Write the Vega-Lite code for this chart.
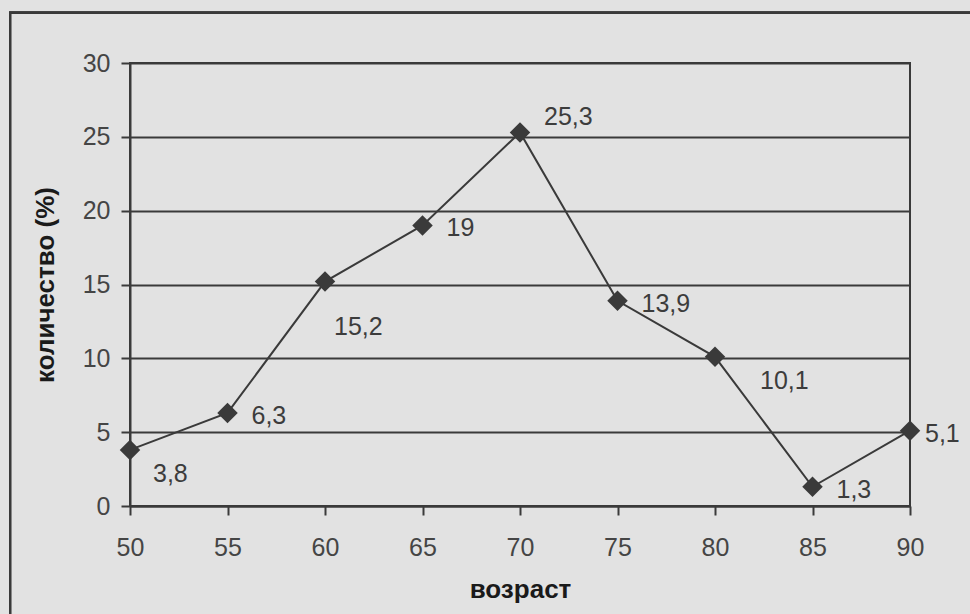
{
  "$schema": "https://vega.github.io/schema/vega-lite/v6.json",
  "width": 780,
  "height": 443,
  "autosize": {"type": "none"},
  "padding": {"left": 130, "top": 63, "right": 60, "bottom": 108},
  "background": "#e2e2e2",
  "config": {
    "locale": {"number": {"decimal": ",", "thousands": " ", "grouping": [3], "currency": ["", ""]}},
    "view": {"stroke": "#3a3a3a", "strokeWidth": 2},
    "font": "Liberation Sans",
    "axis": {
      "labelFont": "Liberation Sans",
      "labelFontSize": 25,
      "labelColor": "#454545",
      "titleFont": "Liberation Sans",
      "titleFontSize": 26,
      "titleFontWeight": "bold",
      "titleColor": "#1a1a1a",
      "domainColor": "#3a3a3a",
      "domainWidth": 2,
      "tickColor": "#3a3a3a",
      "tickWidth": 2,
      "tickSize": 9,
      "gridColor": "#3a3a3a",
      "gridWidth": 2,
      "gridOpacity": 1
    }
  },
  "data": {
    "values": [
      {"age": 50, "value": 3.8},
      {"age": 55, "value": 6.3},
      {"age": 60, "value": 15.2},
      {"age": 65, "value": 19},
      {"age": 70, "value": 25.3},
      {"age": 75, "value": 13.9},
      {"age": 80, "value": 10.1},
      {"age": 85, "value": 1.3},
      {"age": 90, "value": 5.1}
    ]
  },
  "encoding": {
    "x": {
      "field": "age",
      "type": "quantitative",
      "scale": {"domain": [50, 90], "nice": false, "zero": false},
      "axis": {"values": [50, 55, 60, 65, 70, 75, 80, 85, 90], "grid": false, "title": "возраст", "labelPadding": 20, "titlePadding": 16, "labelFlush": false}
    },
    "y": {
      "field": "value",
      "type": "quantitative",
      "scale": {"domain": [0, 30], "nice": false},
      "axis": {"values": [0, 5, 10, 15, 20, 25, 30], "grid": true, "title": "количество (%)", "labelPadding": 11, "titlePadding": 24}
    }
  },
  "layer": [
    {
      "mark": {"type": "rect", "fill": null, "stroke": "#3a3a3a", "strokeWidth": 2},
      "encoding": {
        "x": {"datum": 43.85, "type": "quantitative"},
        "x2": {"datum": 100},
        "y": {"datum": 33.4, "type": "quantitative"},
        "y2": {"datum": -10}
      }
    },
    {
      "mark": {"type": "line", "color": "#3a3a3a", "strokeWidth": 2}
    },
    {
      "mark": {"type": "point", "shape": "diamond", "filled": true, "size": 420, "color": "#3a3a3a", "opacity": 1}
    },
    {
      "transform": [{"filter": {"field": "age", "oneOf": [55, 65, 75, 85]}}],
      "mark": {"type": "text", "align": "left", "baseline": "middle", "dx": 24, "dy": 3, "fontSize": 25, "color": "#3c3c3c"},
      "encoding": {"text": {"field": "value", "type": "quantitative", "format": "~g"}}
    },
    {
      "transform": [{"filter": "datum.age === 90"}],
      "mark": {"type": "text", "align": "left", "baseline": "middle", "dx": 15, "dy": 3, "fontSize": 25, "color": "#3c3c3c"},
      "encoding": {"text": {"field": "value", "type": "quantitative", "format": "~g"}}
    },
    {
      "transform": [{"filter": "datum.age === 50"}],
      "mark": {"type": "text", "align": "left", "baseline": "middle", "dx": 23, "dy": 24, "fontSize": 25, "color": "#3c3c3c"},
      "encoding": {"text": {"field": "value", "type": "quantitative", "format": "~g"}}
    },
    {
      "transform": [{"filter": "datum.age === 80"}],
      "mark": {"type": "text", "align": "left", "baseline": "middle", "dx": 45, "dy": 24, "fontSize": 25, "color": "#3c3c3c"},
      "encoding": {"text": {"field": "value", "type": "quantitative", "format": "~g"}}
    },
    {
      "transform": [{"filter": "datum.age === 60"}],
      "mark": {"type": "text", "align": "left", "baseline": "middle", "dx": 9, "dy": 45, "fontSize": 25, "color": "#3c3c3c"},
      "encoding": {"text": {"field": "value", "type": "quantitative", "format": "~g"}}
    },
    {
      "transform": [{"filter": "datum.age === 70"}],
      "mark": {"type": "text", "align": "left", "baseline": "middle", "dx": 24, "dy": -15, "fontSize": 25, "color": "#3c3c3c"},
      "encoding": {"text": {"field": "value", "type": "quantitative", "format": "~g"}}
    }
  ]
}
